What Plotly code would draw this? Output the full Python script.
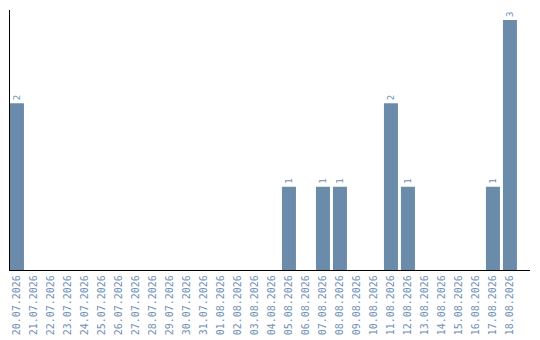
import plotly.graph_objects as go

dates = ["20.07.2026", "21.07.2026", "22.07.2026", "23.07.2026", "24.07.2026",
         "25.07.2026", "26.07.2026", "27.07.2026", "28.07.2026", "29.07.2026",
         "30.07.2026", "31.07.2026", "01.08.2026", "02.08.2026", "03.08.2026",
         "04.08.2026", "05.08.2026", "06.08.2026", "07.08.2026", "08.08.2026",
         "09.08.2026", "10.08.2026", "11.08.2026", "12.08.2026", "13.08.2026",
         "14.08.2026", "15.08.2026", "16.08.2026", "17.08.2026", "18.08.2026"]
counts = [2, 0, 0, 0, 0, 0, 0, 0, 0, 0, 0, 0, 0, 0, 0, 0, 1, 0, 1, 1,
          0, 0, 2, 1, 0, 0, 0, 0, 1, 3]

bar_color = "#6b8bab"
label_color = "#6f8fb5"

labels = [str(c) if c > 0 else "" for c in counts]

fig = go.Figure(go.Bar(
    x=dates, y=counts,
    marker=dict(color=bar_color, line=dict(width=0)),
    text=labels, textposition="outside", textangle=-90,
    textfont=dict(family="DejaVu Sans Mono", size=9, color=label_color),
    cliponaxis=False,
))

fig.update_layout(
    width=540, height=340,
    margin=dict(l=10, r=10, t=10, b=70, autoexpand=False),
    paper_bgcolor="white", plot_bgcolor="white",
    bargap=0.176, showlegend=False,
    xaxis=dict(type="category", tickangle=-90, showgrid=False, automargin=False,
               range=[-0.41, 30.18],
               showline=True, linecolor="black", linewidth=1.2,
               tickfont=dict(family="DejaVu Sans Mono", size=10, color=label_color),
               ticks="", ticklen=0),
    yaxis=dict(range=[0, 3.12], showgrid=False, showticklabels=False, automargin=False,
               showline=True, linecolor="black", linewidth=1.2,
               zeroline=False, ticks=""),
    uniformtext=dict(minsize=8, mode="show"),
)

fig.write_html("out.html")
